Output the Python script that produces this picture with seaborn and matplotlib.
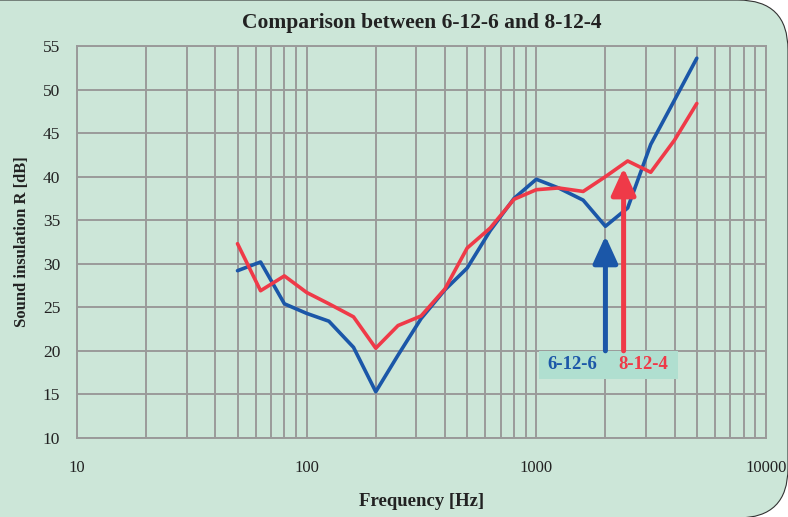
"""
Sound insulation comparison 6-12-6 vs 8-12-4 (third-octave bands)
"""
import numpy as np
import pandas as pd
import matplotlib
matplotlib.use("Agg")
import matplotlib.pyplot as plt
import matplotlib.patches as mpatches
import matplotlib.transforms as mtransforms
from matplotlib.ticker import LogLocator, NullFormatter, FixedLocator
import seaborn as sns

# ── Data ─────────────────────────────────────────────────────────────────────
freqs = [50, 63, 80, 100, 125, 160, 200, 250, 315, 400, 500, 630,
         800, 1000, 1250, 1600, 2000, 2500, 3150, 4000, 5000]
r_6_12_6 = [29.2, 30.2, 25.4, 24.3, 23.4, 20.4, 15.3, 19.5, 23.7, 27.0, 29.5,
            33.8, 37.5, 39.7, 38.7, 37.3, 34.3, 36.4, 43.7, 48.8, 53.6]
r_8_12_4 = [32.3, 26.9, 28.6, 26.7, 25.4, 23.9, 20.3, 22.9, 24.0, 27.1, 31.8,
            34.1, 37.4, 38.5, 38.7, 38.3, 40.0, 41.8, 40.5, 44.2, 48.4]
series_names = ["6-12-6", "8-12-4"]
x_ticks = [10, 100, 1000, 10000]
y_ticks = [10, 15, 20, 25, 30, 35, 40, 45, 50, 55]

# arrows pointing to the dips (freq, tip value)
arrow_freqs = [2000, 2400]
arrow_tips = [33.2, 41.0]

colors = {"6-12-6": "#1b57a8", "8-12-4": "#ef3a48"}
bg = "#cce6d8"
grid_c = "#9a9a9a"

df = pd.concat([
    pd.DataFrame({"Frequency": freqs, "R": r_6_12_6, "series": series_names[0]}),
    pd.DataFrame({"Frequency": freqs, "R": r_8_12_4, "series": series_names[1]}),
])

sns.set_style("white")
plt.rcParams["font.family"] = ["Liberation Serif", "DejaVu Serif"]

fig = plt.figure(figsize=(7.88, 5.17), dpi=100, facecolor="white")

# rounded background panel (behind the axes)
panel = mpatches.FancyBboxPatch((-120, -1), 908, 518,
                                boxstyle="round,pad=0,rounding_size=50",
                                transform=mtransforms.IdentityTransform(),
                                facecolor=bg, edgecolor="#333333", lw=0.8,
                                zorder=-5)
fig.patches.append(panel)

ax = fig.add_axes([0.0977, 0.153, 0.8743, 0.758])
ax.patch.set_alpha(0)

sns.lineplot(data=df, x="Frequency", y="R", hue="series", palette=colors,
             ax=ax, lw=2.6, legend=False, zorder=4)

ax.set_xscale("log")
ax.set_xlim(10, 10000)
ax.set_ylim(10, 55)
ax.xaxis.set_major_locator(FixedLocator(x_ticks))
ax.xaxis.set_minor_locator(LogLocator(base=10, subs=np.arange(2, 10)))
ax.xaxis.set_minor_formatter(NullFormatter())
ax.set_xticks(x_ticks)
ax.set_xticklabels([str(t) for t in x_ticks], fontsize=12)
ax.set_yticks(y_ticks)
ax.set_yticklabels([str(t) for t in y_ticks], fontsize=12.5)

ax.grid(True, which="both", axis="x", color=grid_c, lw=1.4)
ax.grid(True, which="major", axis="y", color=grid_c, lw=1.4)
ax.set_axisbelow(True)
for sp in ax.spines.values():
    sp.set_color(grid_c)
    sp.set_linewidth(1.4)
ax.tick_params(axis="both", which="major", length=5, color=grid_c, width=1.2,
               pad=7, labelcolor="#222222")
ax.tick_params(axis="x", which="minor", length=0)
ax.tick_params(axis="x", which="major", pad=11)

ax.set_xlabel("Frequency [Hz]", fontsize=13.5, fontweight="bold", labelpad=12,
              color="#222222")
ax.set_ylabel("Sound insulation R [dB]", fontsize=12, fontweight="bold",
              labelpad=9, color="#222222")
ax.set_title("Comparison between 6-12-6 and 8-12-4", fontsize=15.5,
             fontweight="bold", pad=13, color="#222222")

# label box + arrows
ax.add_patch(mpatches.Rectangle((1030, 16.8), 4150 - 1030, 20.0 - 16.8,
                                facecolor="#b0dfd0", edgecolor="none", zorder=5))
ax.text(1432, 18.4, series_names[0], color=colors["6-12-6"], fontsize=13.5,
        fontweight="bold", ha="center", va="center", zorder=6)
ax.text(2918, 18.4, series_names[1], color=colors["8-12-4"], fontsize=13.5,
        fontweight="bold", ha="center", va="center", zorder=6)
for f, tip, name in zip(arrow_freqs, arrow_tips, series_names):
    ax.annotate("", xy=(f, tip), xytext=(f, 20.0),
                arrowprops=dict(arrowstyle="-|>,head_width=0.5,head_length=1.1",
                                color=colors[name], lw=3.6, mutation_scale=15,
                                shrinkA=0, shrinkB=0),
                zorder=6)

fig.savefig("out.png", dpi=100, facecolor="white")
plt.close()
